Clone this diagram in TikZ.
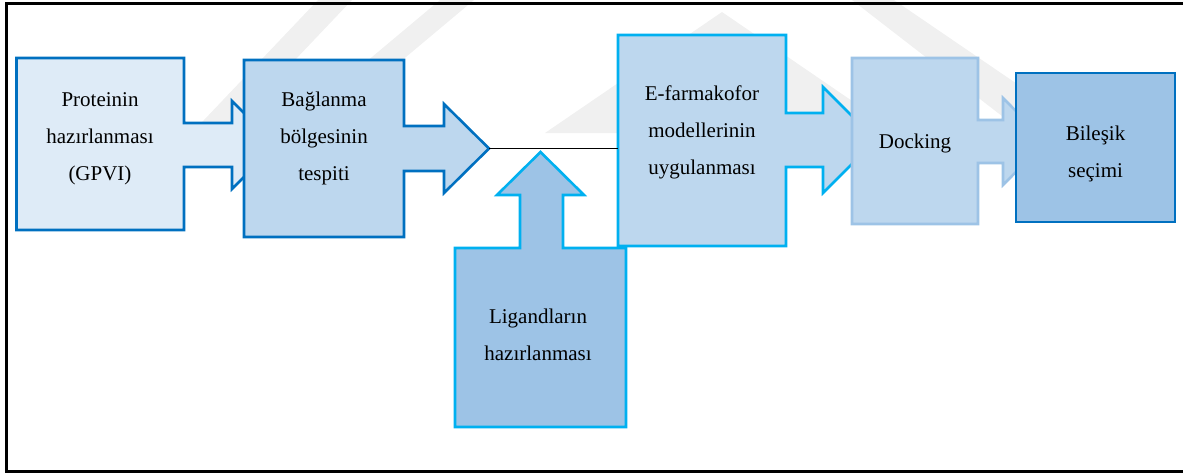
\documentclass[tikz,border=0pt]{standalone}
\usepackage{fontspec}
\setmainfont{Liberation Serif}
\definecolor{dkblue}{HTML}{0070C0}
\definecolor{cyanb}{HTML}{00B0F0}
\definecolor{ltblue}{HTML}{9DC3E6}
\definecolor{paleA}{HTML}{DEEBF7}
\definecolor{paleB}{HTML}{BDD7EE}
\definecolor{wmark}{HTML}{F0F0F0}
\begin{document}
\begin{tikzpicture}[x=1pt,y=-1pt,
  shapeline/.style={line width=2.6pt, line join=miter, miter limit=10},
  lbl/.style={font=\fontsize{21}{37}\selectfont, align=center, inner sep=0pt, anchor=base},
  wm/.style={fill=wmark, draw=none}]
\useasboundingbox (0,0) rectangle (1183,474);
% faint watermark
\fill[wm] (185,140) -- (318,0) -- (352,0) -- (219,140) -- cycle;
\fill[wm] (335,88) -- (440,0) -- (474,0) -- (369,88) -- cycle;
\fill[wm] (545,133) -- (722,12) -- (899,133) -- (822,133) -- (722,65) -- (622,133) -- cycle;
\fill[wm] (852,0) -- (894,0) -- (1020,86) -- (1020,130) -- cycle;
% frame
\draw[line width=2.2pt] (1183,3.5) -- (6.5,3.5) -- (6.5,471.5) -- (1183,471.5);
% callout 1
\draw[shapeline, fill=paleA, draw=dkblue]
  (16.5,58) -- (184,58) -- (184,123) -- (232,123) -- (232,101) -- (276,145)
  -- (232,189) -- (232,167) -- (184,167) -- (184,230) -- (16.5,230) -- cycle;
\node[lbl] (prot) at (100,180) {Proteinin\\hazırlanması\\(GPVI)};
% callout 2
\draw[shapeline, fill=paleB, draw=dkblue]
  (244,60) -- (404,60) -- (404,126) -- (444,126) -- (444,104) -- (489,148.5)
  -- (444,193) -- (444,171) -- (404,171) -- (404,237) -- (244,237) -- cycle;
\coordinate (tip2) at (489,148.5);
\node[lbl] (bag) at (324,180) {Bağlanma\\bölgesinin\\tespiti};
% callout 3
\draw[shapeline, fill=paleB, draw=cyanb]
  (618,35) -- (786,35) -- (786,113) -- (823,113) -- (823,87) -- (876,140)
  -- (823,193) -- (823,167) -- (786,167) -- (786,246) -- (618,246) -- cycle;
\coordinate (efw) at (618,148.5);
\node[lbl] (efarm) at (702,174.5) {E-farmakofor\\modellerinin\\uygulanması};
% upward callout
\draw[shapeline, fill=ltblue, draw=cyanb]
  (455,248) -- (520,248) -- (520,195) -- (497,195) -- (540.5,152) -- (584,195)
  -- (563,195) -- (563,248) -- (626,248) -- (626,427) -- (455,427) -- cycle;
\node[lbl] (lig) at (538,360.5) {Ligandların\\hazırlanması};
% connector line
\draw[line width=1pt, black] (tip2) -- (efw);
% callout 4
\draw[shapeline, fill=paleB, draw=ltblue]
  (852,58) -- (978,58) -- (978,120) -- (1003,120) -- (1003,98) -- (1046,141.5)
  -- (1003,185) -- (1003,163) -- (978,163) -- (978,224) -- (852,224) -- cycle;
\node[lbl] (dock) at (915,148) {Docking};
% box 5
\draw[shapeline, fill=ltblue, draw=dkblue] (1016,73) rectangle (1175,222);
\node[lbl] (bil) at (1095.5,177) {Bileşik\\seçimi};
\end{tikzpicture}
\end{document}
